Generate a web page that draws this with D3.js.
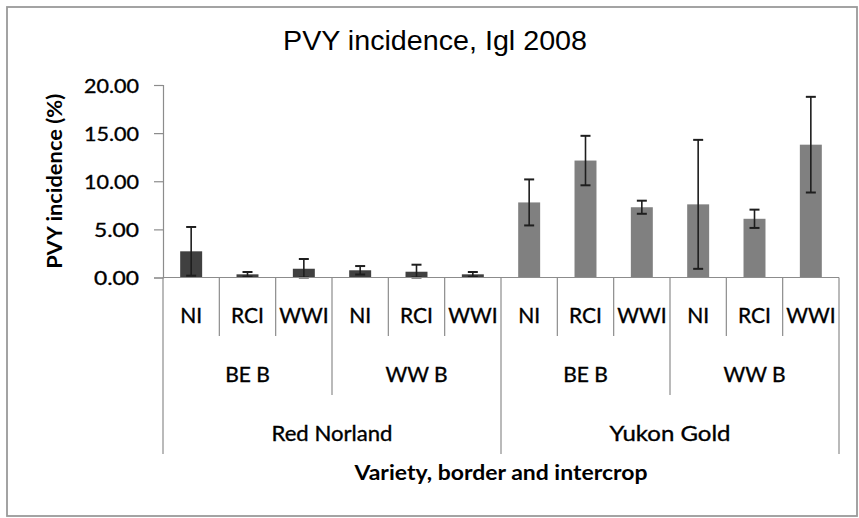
<!DOCTYPE html>
<html>
<head>
<meta charset="utf-8">
<script src="https://cdn.jsdelivr.net/npm/d3@7"></script>
<style>
  html, body { margin: 0; padding: 0; background: #fff; }
  svg { display: block; }
</style>
</head>
<body>
<svg id="chart" width="859" height="518"></svg>
<script>
// ---- data ----
const varieties = ["Red Norland", "Yukon Gold"];
const borders = ["BE B", "WW B"];
const intercrops = ["NI", "RCI", "WWI"];
const values = [2.72, 0.33, 0.91, 0.75, 0.60, 0.33, 7.80, 12.15, 7.30, 7.60, 6.10, 13.80];
const errors = [2.53, 0.24, 1.01, 0.44, 0.73, 0.24, 2.39, 2.57, 0.68, 6.70, 0.95, 4.97];
const yTicks = [0, 5, 10, 15, 20];
const barColors = {"Red Norland": "#404040", "Yukon Gold": "#808080"};
const chartTitle = "PVY incidence, Igl 2008";
const yTitle = "PVY incidence (%)";
const xTitle = "Variety, border and intercrop";

// build rows
const rows = [];
varieties.forEach(v => borders.forEach(b => intercrops.forEach(ic => {
  rows.push({variety: v, border: b, intercrop: ic});
})));
rows.forEach((r, i) => { r.id = i; r.value = values[i]; r.err = errors[i]; });

// ---- layout ----
const svg = d3.select("#chart");
const pL = 163, pR = 839, pT = 85, pB = 277.5;
const font = "Lato, 'Open Sans', sans-serif";

svg.append("rect").attr("x", 7).attr("y", 7).attr("width", 850).attr("height", 509)
  .attr("fill", "#fff").attr("stroke", "#9a9a9a").attr("stroke-width", 1.8);

const x = d3.scaleBand().domain(rows.map(d => d.id)).range([pL, pR]).padding(0);
const y = d3.scaleLinear().domain([0, 20]).range([pB, pT]);
const barW = x.bandwidth() * 0.39;

// title
svg.append("text").attr("x", 435).attr("y", 50).attr("text-anchor", "middle")
  .attr("font-family", "'Liberation Sans', Arial, sans-serif").attr("font-size", 27)
  .attr("textLength", 304).attr("lengthAdjust", "spacingAndGlyphs")
  .attr("fill", "#000").text(chartTitle);

// y axis
const yAxis = d3.axisLeft(y).tickValues(yTicks).tickSize(9).tickPadding(15)
  .tickFormat(d3.format(".2f"));
const gy = svg.append("g").attr("transform", `translate(${pL},0)`).call(yAxis);
gy.select(".domain").attr("stroke", "#8c8c8c").attr("stroke-width", 1.2);
gy.selectAll(".tick line").attr("stroke", "#8c8c8c").attr("stroke-width", 1.2);
gy.selectAll(".tick text").attr("font-family", font).attr("font-size", 20)
  .attr("fill", "#000").attr("stroke", "#000").attr("stroke-width", 0.35)
  .attr("textLength", 55).attr("lengthAdjust", "spacingAndGlyphs")
  .attr("dy", "0.36em");
gy.selectAll(".tick text").filter(d => d < 10).attr("textLength", 45);

svg.append("text")
  .attr("transform", `translate(62,${(pT + pB) / 2}) rotate(-90)`)
  .attr("text-anchor", "middle").attr("font-family", font).attr("font-weight", "bold")
  .attr("font-size", 20).attr("textLength", 175).attr("lengthAdjust", "spacingAndGlyphs")
  .text(yTitle);

// bars
svg.append("g").selectAll("rect").data(rows).join("rect")
  .attr("x", d => x(d.id) + (x.bandwidth() - barW) / 2)
  .attr("y", d => y(d.value))
  .attr("width", barW)
  .attr("height", d => pB - y(d.value))
  .attr("fill", d => barColors[d.variety]);

// error bars
const eb = svg.append("g").attr("stroke", "#1e1e1e").attr("stroke-width", 1.6);
rows.forEach(d => {
  const cx = x(d.id) + x.bandwidth() / 2;
  const y1 = y(d.value + d.err), y2 = y(Math.max(0, d.value - d.err));
  eb.append("line").attr("x1", cx).attr("x2", cx).attr("y1", y1).attr("y2", y2);
  eb.append("line").attr("x1", cx - 5).attr("x2", cx + 5).attr("y1", y1).attr("y2", y1).attr("stroke-width", 2);
  eb.append("line").attr("x1", cx - 5).attr("x2", cx + 5).attr("y1", y2).attr("y2", y2).attr("stroke-width", 2);
});

// x baseline
svg.append("line").attr("x1", pL).attr("x2", pR).attr("y1", pB).attr("y2", pB)
  .attr("stroke", "#8c8c8c").attr("stroke-width", 1.2);

// multi-level category axis
const axisG = svg.append("g").attr("stroke", "#8c8c8c").attr("stroke-width", 1.2);
const lvl1End = 336, lvl2End = 395, lvl3End = 454;
for (let i = 0; i <= rows.length; i++) {
  const xx = i < rows.length ? x(i) : pR;
  let end = lvl1End;
  if (i % 6 === 0) end = lvl3End;
  else if (i % 3 === 0) end = lvl2End;
  axisG.append("line").attr("x1", xx).attr("x2", xx).attr("y1", pB).attr("y2", end);
}

const lab = svg.append("g").attr("font-family", font).attr("fill", "#000")
  .attr("stroke", "#000").attr("stroke-width", 0.35).attr("text-anchor", "middle");
rows.forEach(d => {
  lab.append("text").attr("x", x(d.id) + x.bandwidth() / 2).attr("y", 323)
    .attr("font-size", 21).text(d.intercrop);
});
varieties.forEach((v, vi) => borders.forEach((b, bi) => {
  const i0 = vi * 6 + bi * 3;
  const cx = (x(i0) + x(i0 + 2) + x.bandwidth()) / 2;
  lab.append("text").attr("x", cx).attr("y", 381.5).attr("font-size", 21).text(b);
}));
varieties.forEach((v, vi) => {
  const i0 = vi * 6;
  const cx = (x(i0) + x(i0 + 5) + x.bandwidth()) / 2;
  lab.append("text").attr("x", cx).attr("y", 440.5).attr("font-size", 21)
    .attr("textLength", 121).attr("lengthAdjust", "spacingAndGlyphs").text(v);
});

svg.append("text").attr("x", (pL + pR) / 2).attr("y", 480).attr("text-anchor", "middle")
  .attr("font-family", font).attr("font-weight", "bold").attr("font-size", 21)
  .attr("textLength", 293).attr("lengthAdjust", "spacingAndGlyphs")
  .text(xTitle);
</script>
</body>
</html>
